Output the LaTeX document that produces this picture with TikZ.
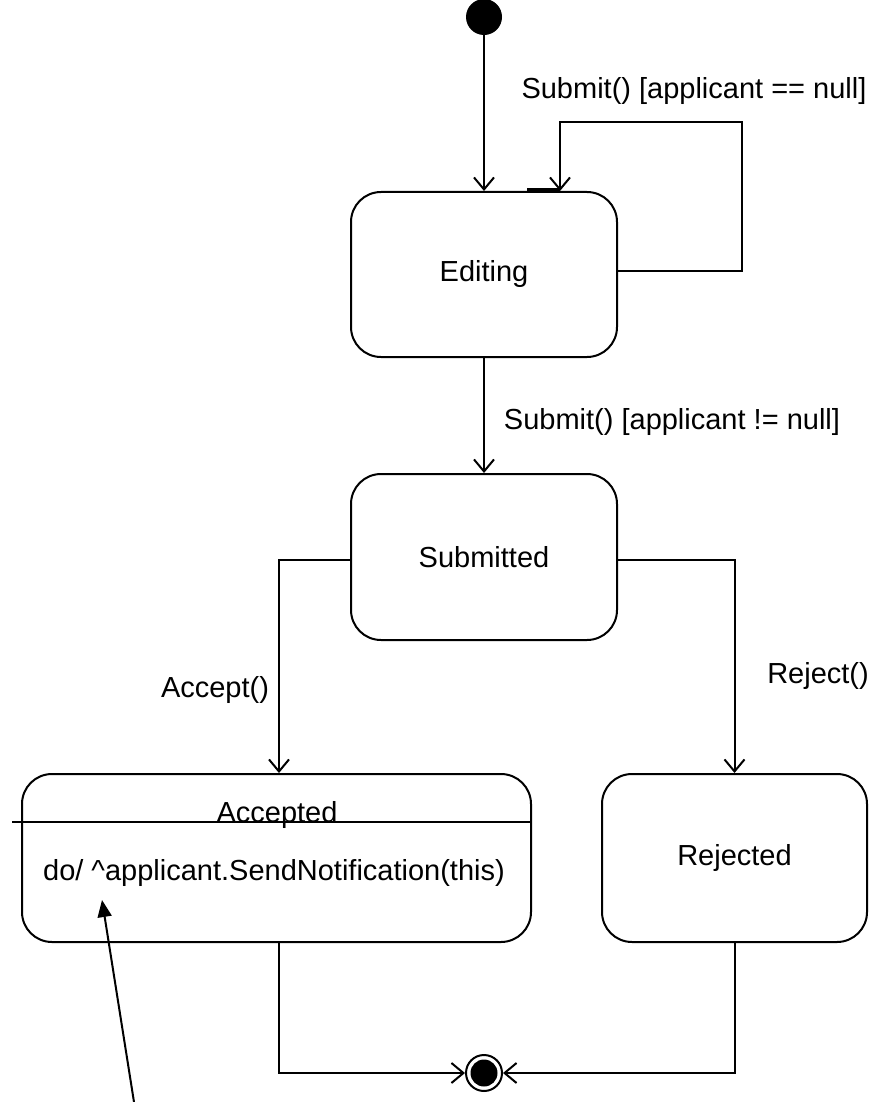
\documentclass[tikz,border=0pt]{standalone}
\usepackage{fontspec}
\setmainfont{Liberation Sans}
\usetikzlibrary{arrows.meta,calc}

\begin{document}
\begin{tikzpicture}[x=1pt,y=-1pt,
  line width=2pt,
  txt/.style={font=\fontsize{29}{33}\selectfont, inner sep=0pt},
  state/.style={draw, rounded corners=30pt, inner sep=0pt, font=\fontsize{29}{33}\selectfont},
  arr/.style={-{Straight Barb[length=12pt,width=20pt,line width=2pt]}},
  notearr/.style={-{Triangle[length=17pt,width=14pt]}},
]
\useasboundingbox (0,0) rectangle (892,1102);

% initial and final pseudo-states
\node[circle, fill=black, draw, minimum size=34pt, inner sep=0pt] (init) at (484,17) {};
\node[circle, draw, minimum size=36pt, inner sep=0pt] (final) at (484,1073) {};
\fill (final.center) circle (13.5pt);

% states
\node[state, minimum width=266pt, minimum height=165pt] (editing) at (484,274.5) {Editing};
\node[state, minimum width=266pt, minimum height=166pt] (submitted) at (484,557) {Submitted};
\node[state, minimum width=509pt, minimum height=168pt] (accepted) at (276.5,858) {};
\node[state, minimum width=265pt, minimum height=168pt] (rejected) at (734.5,858) {Rejected};

% Accepted compartments
\coordinate (divL) at (12,822);
\draw (divL) -- (divL -| accepted.east);
\node[txt, anchor=base] (acctitle) at (277,822) {Accepted};
\node[txt] (accdo) at (274,873) {do/ \^{}applicant.SendNotification(this)};

% transitions
\draw[arr] (init) -- (editing.north);
\coordinate (loopR) at (742,122);
\draw[arr] ([yshift=4pt]editing.east) -| (loopR) -| ([xshift=76pt]editing.north);
\draw[line width=3pt] ([xshift=43pt,yshift=1.5pt]editing.north) -- ([xshift=76pt,yshift=1.5pt]editing.north);
\draw[arr] (editing.south) -- (submitted.north);
\draw[arr] ([yshift=-3pt]submitted.west) -| ([xshift=2.5pt]accepted.north);
\draw[arr] ([yshift=-3pt]submitted.east) -| (rejected.north);
\draw[arr] ([xshift=2.5pt]accepted.south) |- (final.west);
\draw[arr] (rejected.south) |- (final.east);

% note pointer
\coordinate (noteEnd) at (134,1102);
\coordinate (caret) at (102,900);
\draw[notearr] (noteEnd) -- (caret);

% transition labels
\node[txt] (lbl1) at (694,91) {Submit() [applicant == null]};
\node[txt] (lbl2) at (672,422) {Submit() [applicant != null]};
\node[txt] (lbl3) at (215,690) {Accept()};
\node[txt] (lbl4) at (818,676) {Reject()};
\end{tikzpicture}
\end{document}
